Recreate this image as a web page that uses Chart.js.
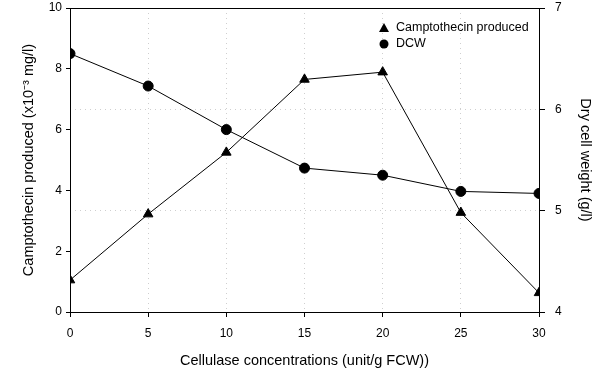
<!DOCTYPE html>
<html>
<head>
<meta charset="utf-8">
<script src="https://cdn.jsdelivr.net/npm/chart.js@4"></script>
<style>
  html, body { margin: 0; padding: 0; background: #fff; }
  #wrap { width: 602px; height: 374px; }
</style>
</head>
<body>
<div id="wrap"><canvas id="canvas" width="602" height="374"></canvas></div>
<script>
// cellulase concentrations (unit/g FCW)
const concentrations = [0, 5, 10, 15, 20, 25, 30];
// camptothecin produced (x10^-3 mg/l), left axis
const camptothecin = [1.05, 3.22, 5.25, 7.65, 7.89, 3.27, 0.63];
// dry cell weight (g/l), right axis
const dcw = [6.55, 6.23, 5.80, 5.42, 5.35, 5.19, 5.17];
const leftTicks = [0, 2, 4, 6, 8, 10];
const rightTicks = [4, 5, 6, 7];
const xTicks = [0, 5, 10, 15, 20, 25, 30];

const font = "'Liberation Sans', Arial, sans-serif";

// top frame line + legend in the upper right of the plot
const extras = {
    id: 'extras',
    afterDraw(chart) {
        const ctx = chart.ctx;
        const a = chart.chartArea;
        ctx.save();
        ctx.strokeStyle = '#000';
        ctx.lineWidth = 1;
        ctx.beginPath();
        ctx.moveTo(a.left, a.top + 0.5);
        ctx.lineTo(a.right, a.top + 0.5);
        ctx.stroke();

        // legend
        ctx.fillStyle = '#000';
        ctx.font = '12.5px ' + font;
        ctx.textBaseline = 'middle';
        const ds = chart.data.datasets;
        const lx = 384, ly = [28, 44];
        // triangle
        ctx.beginPath();
        ctx.moveTo(lx, ly[0] - 5);
        ctx.lineTo(lx + 5, ly[0] + 4);
        ctx.lineTo(lx - 5, ly[0] + 4);
        ctx.closePath();
        ctx.fill();
        // circle
        ctx.beginPath();
        ctx.arc(lx, ly[1], 4.5, 0, Math.PI * 2);
        ctx.fill();
        ctx.fillText(ds[0].label, 396, ly[0]);
        ctx.fillText(ds[1].label, 396, ly[1]);
        ctx.restore();
    }
};

let ctx = document.getElementById('canvas').getContext('2d');

let chart = new Chart(ctx, {
    type: 'line',
    data: {
        labels: concentrations,
        datasets: [{
            label: 'Camptothecin produced',
            data: concentrations.map((x, i) => ({x: x, y: camptothecin[i]})),
            yAxisID: 'y',
            borderColor: '#000',
            backgroundColor: '#000',
            borderWidth: 1,
            pointStyle: 'triangle',
            pointRadius: 5.5,
            tension: 0
        }, {
            label: 'DCW',
            data: concentrations.map((x, i) => ({x: x, y: dcw[i]})),
            yAxisID: 'y2',
            borderColor: '#000',
            backgroundColor: '#000',
            borderWidth: 1,
            pointStyle: 'circle',
            pointRadius: 5,
            tension: 0
        }]
    },
    options: {
        responsive: false,
        animation: false,
        layout: { padding: { top: 8, left: 16, right: 0, bottom: 0 } },
        plugins: {
            legend: { display: false },
            tooltip: { enabled: false }
        },
        scales: {
            x: {
                type: 'linear',
                min: 0,
                max: 30,
                afterBuildTicks: s => { s.ticks = xTicks.map(v => ({value: v})); },
                afterFit: s => { s.height = 62; },
                grid: {
                    color: '#cfcfcf',
                    tickColor: '#000',
                    tickLength: 5,
                    drawOnChartArea: true
                },
                border: { color: '#000', width: 1, dash: [1, 4] },
                ticks: { color: '#000', font: { family: font, size: 12 }, padding: 9, maxRotation: 0 },
                title: {
                    display: true,
                    text: 'Cellulase concentrations (unit/g FCW))',
                    color: '#000',
                    font: { family: font, size: 14.5 },
                    padding: { top: 8 }
                }
            },
            y: {
                position: 'left',
                min: 0,
                max: 10,
                afterBuildTicks: s => { s.ticks = leftTicks.map(v => ({value: v})); },
                afterFit: s => { s.width = 54; s.paddingTop = 6; s.paddingBottom = 6; },
                grid: { drawOnChartArea: false, tickColor: '#000', tickLength: 4 },
                border: { color: '#000', width: 1 },
                ticks: { color: '#000', font: { family: font, size: 12 }, padding: 4 },
                title: {
                    display: true,
                    text: 'Camptothecin produced (x10\u207B\u00B3 mg/l)',
                    color: '#000',
                    font: { family: font, size: 14.5 },
                    padding: { bottom: 8 }
                }
            },
            y2: {
                position: 'right',
                min: 4,
                max: 7,
                afterBuildTicks: s => { s.ticks = rightTicks.map(v => ({value: v})); },
                afterFit: s => { s.width = 63; s.paddingTop = 6; s.paddingBottom = 6; },
                grid: {
                    color: '#cfcfcf',
                    tickColor: '#000',
                    tickLength: 6,
                    drawOnChartArea: true
                },
                border: { color: '#000', width: 1, dash: [1, 4] },
                ticks: { color: '#000', font: { family: font, size: 12 }, padding: 10 },
                title: {
                    display: true,
                    text: 'Dry cell weight (g/l)',
                    color: '#000',
                    font: { family: font, size: 14.5 },
                    padding: { top: 8 }
                }
            }
        }
    },
    plugins: [extras]
});
</script>
</body>
</html>
